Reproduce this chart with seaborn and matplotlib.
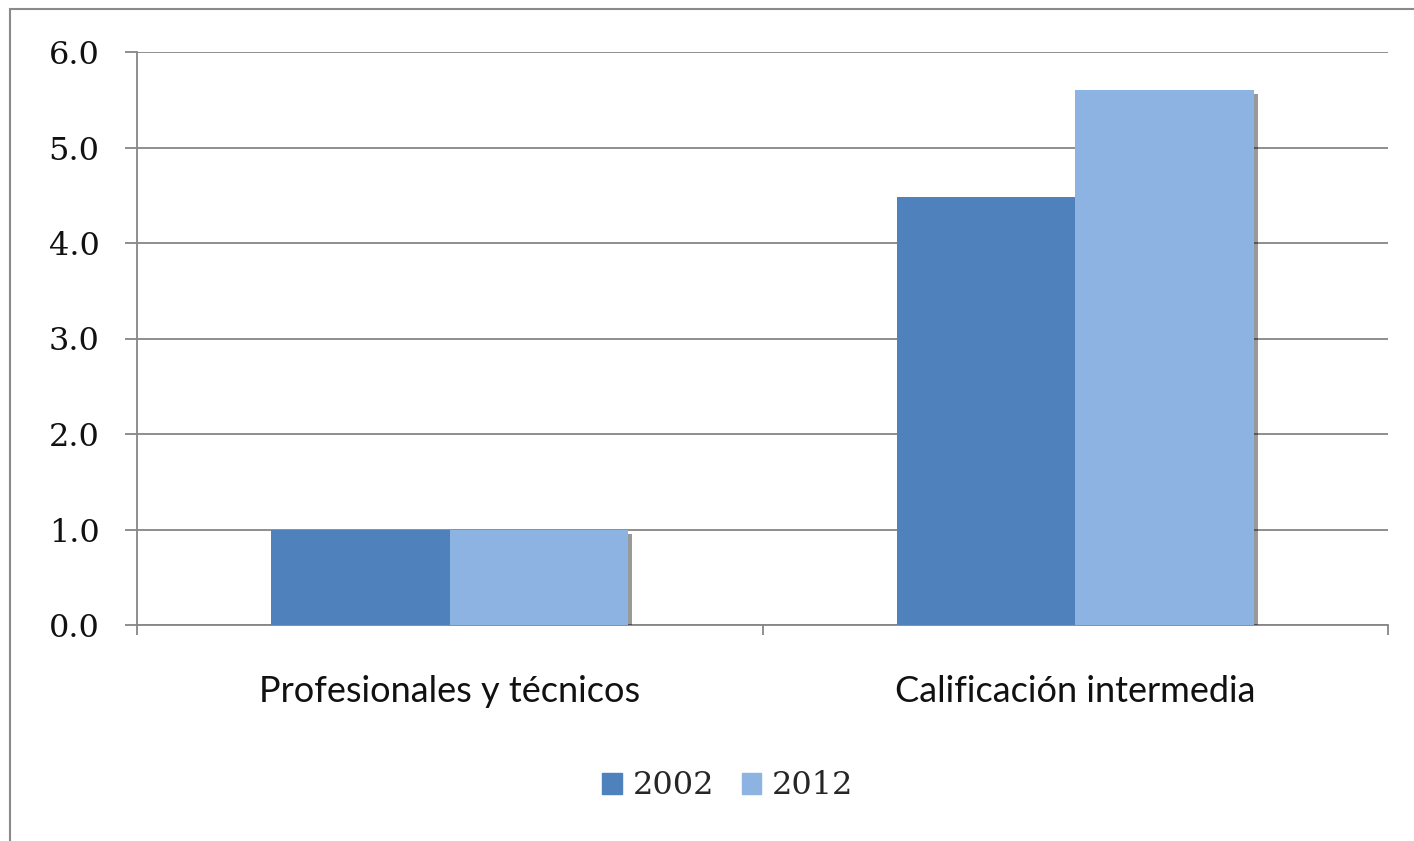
import matplotlib
matplotlib.use("Agg")
import matplotlib.pyplot as plt
import matplotlib.patheffects as pe
from matplotlib.patches import Rectangle
import seaborn as sns
import pandas as pd

categories = ["Profesionales y técnicos", "Calificación intermedia"]
years = ["2002", "2012"]
values_2002 = [1.0, 4.48]
values_2012 = [1.0, 5.6]
y_ticks = [0.0, 1.0, 2.0, 3.0, 4.0, 5.0, 6.0]

df = pd.DataFrame({
    "categoria": categories * 2,
    "anio": [years[0]] * 2 + [years[1]] * 2,
    "valor": values_2002 + values_2012,
})

sns.set_theme(style="white")
plt.rcParams["font.family"] = ["DejaVu Serif", "DejaVu Sans"]

colors = {"2002": "#4F81BD", "2012": "#8DB3E2"}

fig = plt.figure(figsize=(14.14, 8.41), dpi=100)
ax = fig.add_axes([137 / 1414, 1 - 625 / 841, (1388 - 137) / 1414, (625 - 52) / 841])

sns.barplot(data=df, x="categoria", y="valor", hue="anio", palette=colors,
            width=0.57, gap=0, ax=ax, saturation=1, edgecolor="none",
            linewidth=0, legend=False, zorder=3)

for bar in ax.patches[2:]:
    bar.set_path_effects([pe.SimplePatchShadow(offset=(3, -3), shadow_rgbFace="#000000", alpha=0.4),
                          pe.Normal()])

ax.set_xlim(-0.5, 1.5)
ax.set_ylim(0, 6)
ax.set_yticks(y_ticks)
ax.set_yticklabels([f"{v:.1f}" for v in y_ticks], fontsize=23, color="#111111",
                   family=["DejaVu Serif", "DejaVu Sans"])
ax.yaxis.grid(True, color="#868686", linewidth=1.3, zorder=0)
ax.set_axisbelow(True)
ax.tick_params(axis="y", which="major", left=True, length=9, width=1.3,
               color="#868686", pad=18)
ax.tick_params(axis="x", which="major", bottom=False, pad=30)
ax.set_xticks([-0.5, 0.5, 1.5], minor=True)
ax.tick_params(axis="x", which="minor", bottom=True, length=7, width=1.3, color="#868686")
for lbl in ax.get_xticklabels():
    lbl.set_fontfamily(["Lato", "DejaVu Sans"])
    lbl.set_fontsize(26)
    lbl.set_color("#111111")
ax.set_xlabel("")
ax.set_ylabel("")

for side in ["top", "right"]:
    ax.spines[side].set_visible(False)
for side in ["left", "bottom"]:
    ax.spines[side].set_color("#868686")
    ax.spines[side].set_linewidth(1.3)

handles = [Rectangle((0, 0), 1, 1, color=colors[y]) for y in years]
fig.legend(handles, years, loc="center", bbox_to_anchor=(728 / 1414, 1 - 786 / 841),
           ncol=2, frameon=False, handlelength=0.62, handleheight=0.62,
           handletextpad=0.34, columnspacing=0.85,
           prop={"family": ["DejaVu Serif", "DejaVu Sans"], "size": 23})

# outer chart frame
fig.patches.append(Rectangle((10 / 1414, -0.01), 1.02, 1 - 9 / 841 + 0.01,
                             transform=fig.transFigure, fill=False,
                             edgecolor="#8a8a8a", linewidth=1.5))

fig.savefig("out.png", dpi=100, facecolor="white")
